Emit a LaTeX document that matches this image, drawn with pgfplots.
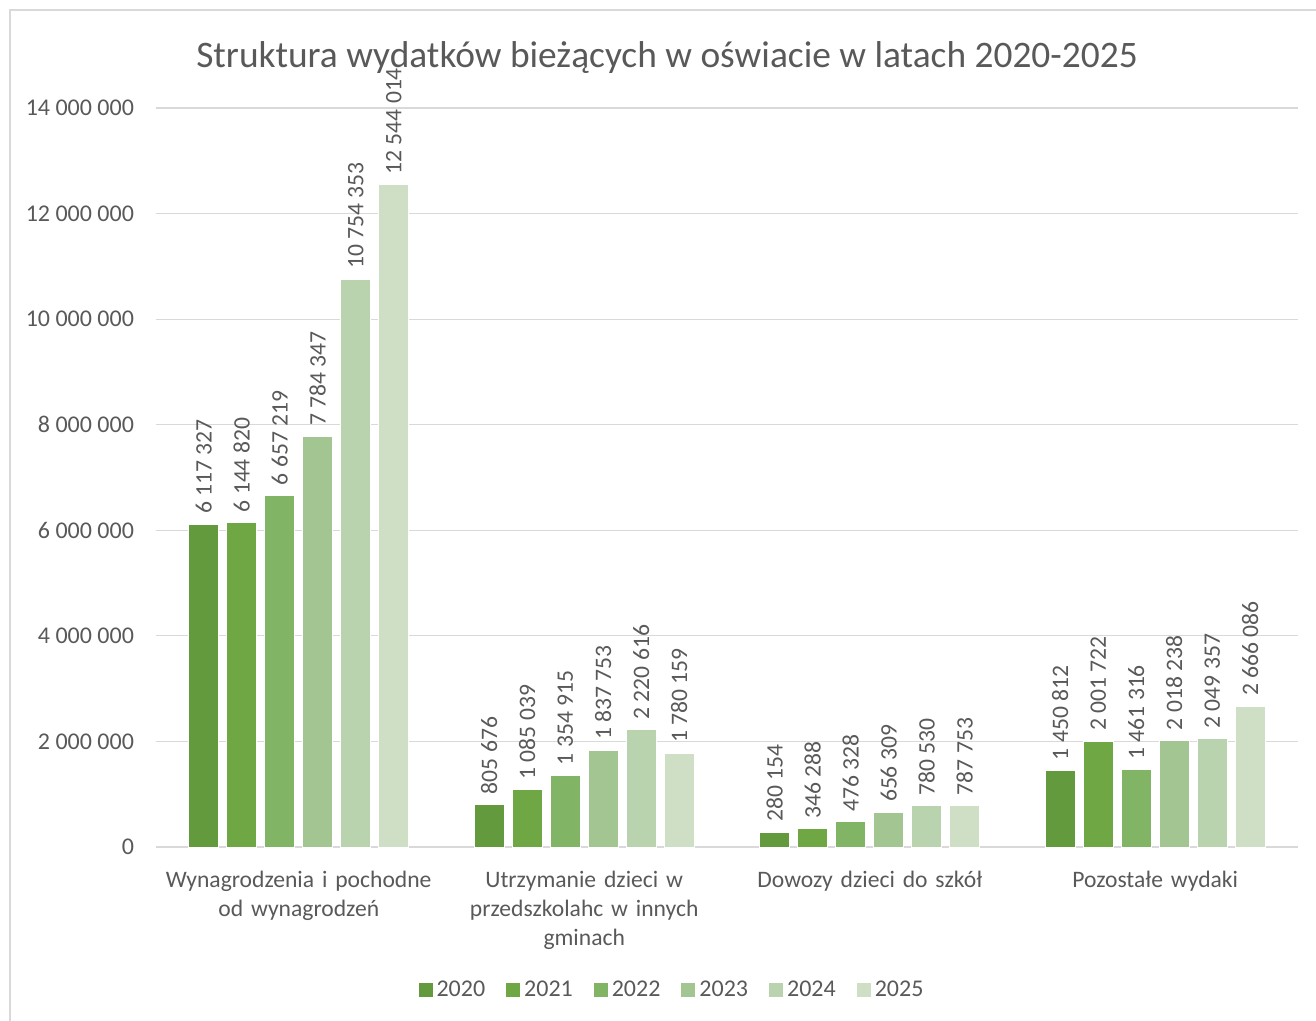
\documentclass[border=0pt]{standalone}
\usepackage{fontspec}
\setmainfont{Carlito}
\usepackage{pgfplots}
\pgfplotsset{compat=1.18}
\definecolor{cA}{HTML}{639A3E}
\definecolor{cB}{HTML}{6EA744}
\definecolor{cC}{HTML}{82B466}
\definecolor{cD}{HTML}{A3C592}
\definecolor{cE}{HTML}{B8D3AE}
\definecolor{cF}{HTML}{CFDFC6}
\definecolor{txt}{HTML}{595959}
\definecolor{grd}{HTML}{D9D9D9}
\begin{document}
\begin{tikzpicture}
\useasboundingbox (0,0) rectangle (658pt,-510.5pt);
\draw[grd, line width=0.6pt] (5pt,-510.5pt) -- (5pt,-5pt) -- (658pt,-5pt);
\node[font=\fontsize{18.7pt}{22pt}\selectfont, text=txt] at (333.5pt,-29pt) {Struktura wydatków bieżących w oświacie w latach 2020-2025};
\begin{axis}[
  at={(78pt,-423.5pt)}, anchor=south west,
  scale only axis, width=571pt, height=369.5pt,
  ybar=4pt, bar width=15pt,
  xmin=-0.5, xmax=3.5, ymin=0, ymax=14000000,
  ytick={0,2000000,4000000,6000000,8000000,10000000,12000000,14000000},
  scaled y ticks=false,
  /pgf/number format/.cd, assume math mode=true, 1000 sep={\ }, fixed, precision=0,
  /pgfplots/.cd,
  xtick={0,1,2,3},
  xticklabels={{Wynagrodzenia i pochodne\\od wynagrodzeń},{Utrzymanie dzieci w\\przedszkolahc w innych\\gminach},{Dowozy dzieci do szkół},{Pozostałe wydaki}},
  xticklabel style={align=center, text width=150pt, font=\fontsize{11.8pt}{14.5pt}\selectfont, text=txt, yshift=-8.5pt},
  yticklabel style={font=\fontsize{12pt}{14pt}\selectfont, text=txt, xshift=-7.5pt},
  major tick length=0pt,
  ymajorgrids, grid style={grd, line width=0.6pt},
  axis x line*=bottom, axis y line*=left,
  y axis line style={draw=none},
  x axis line style={draw=grd, line width=0.6pt, -},
  clip=false,
  nodes near coords,
  every node near coord/.append style={rotate=90, anchor=west, font=\fontsize{11.8pt}{14pt}\selectfont, text=txt, inner sep=5pt},
  legend columns=6,
  legend style={at={(0.4527,-0.1935)}, anchor=center, draw=none, fill=none, font=\fontsize{12pt}{14pt}\selectfont, text=txt,
    /tikz/every even column/.append style={column sep=8.5pt}},
  legend image code/.code={\fill[#1, draw=none] (0pt,-3.5pt) rectangle (7pt,3.5pt);},
  every axis plot/.append style={draw=white, line width=0.4pt},
]
\addplot[fill=cA] coordinates {(0,6117327) (1,805676) (2,280154) (3,1450812)};
\addplot[fill=cB] coordinates {(0,6144820) (1,1085039) (2,346288) (3,2001722)};
\addplot[fill=cC] coordinates {(0,6657219) (1,1354915) (2,476328) (3,1461316)};
\addplot[fill=cD] coordinates {(0,7784347) (1,1837753) (2,656309) (3,2018238)};
\addplot[fill=cE] coordinates {(0,10754353) (1,2220616) (2,780530) (3,2049357)};
\addplot[fill=cF] coordinates {(0,12544014) (1,1780159) (2,787753) (3,2666086)};
\legend{2020,2021,2022,2023,2024,2025}
\end{axis}
\end{tikzpicture}
\end{document}
